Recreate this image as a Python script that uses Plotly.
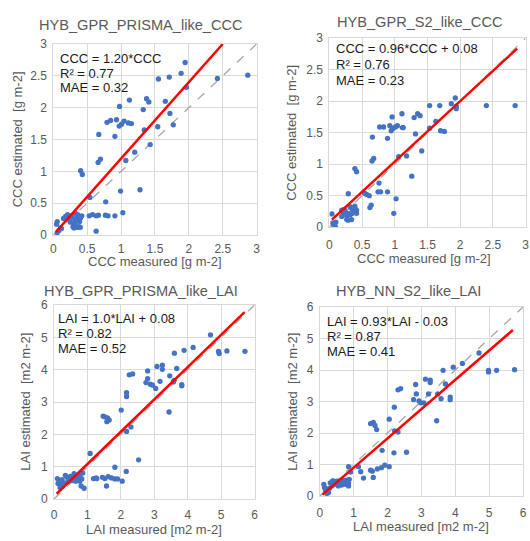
import plotly.graph_objects as go

# ---------------- data ----------------
titles = ["HYB_GPR_PRISMA_like_CCC", "HYB_GPR_S2_like_CCC",
          "HYB_GPR_PRISMA_like_LAI", "HYB_NN_S2_like_LAI"]
x_titles = ["CCC measured [g m-2]", "CCC measured [g m-2]",
            "LAI measured [m2 m-2]", "LAI measured [m2 m-2]"]
y_titles = ["CCC estimated  [g m-2]", "CCC estimated  [g m-2]",
            "LAI estimated  [m2 m-2]", "LAI estimated  [m2 m-2]"]
stat_lines = [["CCC = 1.20*CCC", "R² = 0.77", "MAE = 0.32"],
              ["CCC = 0.96*CCC + 0.08", "R² = 0.76", "MAE = 0.23"],
              ["LAI = 1.0*LAI + 0.08", "R² = 0.82", "MAE = 0.52"],
              ["LAI = 0.93*LAI - 0.03", "R² = 0.87", "MAE = 0.41"]]
fit_slope = [1.20, 0.96, 1.0, 0.93]
fit_intercept = [0.0, 0.08, 0.08, -0.03]
fit_x = [[0.04, 2.5], [0.04, 2.87], [0.08, 5.7], [0.08, 5.7]]
axis_max = [3, 3, 6, 6]
tick_step = [0.5, 0.5, 1, 1]

ccc_prisma_meas = [1.945, 1.886, 1.711, 1.551, 2.421, 2.87, 1.964, 0.977, 1.123, 1.376,
                   1.41, 1.653, 1.327, 1.721, 0.792, 0.846, 0.933, 1.045, 1.006, 0.972,
                   1.108, 1.152, 0.671, 0.909, 1.342, 1.541, 1.77, 1.429, 1.201, 0.695,
                   0.661, 1.07, 0.403, 0.428, 0.992, 1.279, 0.773, 0.54, 1.026, 0.909,
                   0.768, 0.807, 0.579, 0.53, 0.632, 0.666, 0.632,
                   0.18, 0.21, 0.277, 0.325, 0.35, 0.374, 0.398, 0.42, 0.388, 0.30,
                   0.325, 0.36, 0.398, 0.252, 0.058, 0.048, 0.107, 0.083, 0.058,
                   0.29, 0.306, 0.38, 0.12, 0.23, 0.27, 0.33, 0.40, 0.15, 0.36]
ccc_prisma_est = [2.71, 2.54, 2.48, 2.45, 2.46, 2.51, 2.32, 2.02, 2.12, 2.14,
                  2.09, 2.10, 1.97, 1.91, 1.77, 1.80, 1.81, 1.79, 1.74, 1.71,
                  1.76, 1.75, 1.58, 1.55, 1.65, 1.70, 1.73, 1.42, 1.30, 1.19,
                  1.14, 1.17, 1.01, 0.95, 0.69, 0.71, 0.52, 0.59, 0.35, 0.30,
                  0.31, 0.30, 0.32, 0.30, 0.30, 0.31, 0.06,
                  0.29, 0.32, 0.276, 0.34, 0.276, 0.24, 0.265, 0.30, 0.21, 0.19,
                  0.16, 0.12, 0.12, 0.20, 0.21, 0.17, 0.11, 0.07, 0.035,
                  0.13, 0.11, 0.13, 0.10, 0.25, 0.30, 0.23, 0.27, 0.26, 0.32]

ccc_s2_meas = [1.925, 1.864, 1.94, 1.94, 1.533, 1.688, 2.40, 2.84, 0.96, 1.11,
               1.35, 1.387, 1.296, 0.769, 0.829, 0.925, 0.975, 1.01, 1.04, 0.945,
               1.116, 1.13, 0.658, 0.889, 1.317, 1.533, 1.759, 1.70, 1.628, 1.412,
               1.06, 1.18, 0.653, 0.678, 0.39, 0.417, 1.26, 0.759, 0.744, 0.784,
               0.889, 1.02, 0.985, 0.62, 0.64, 0.29, 0.54, 0.57, 0.61,
               0.317, 0.34, 0.367, 0.39, 0.356, 0.317, 0.266, 0.216, 0.19, 0.24,
               0.29, 0.39, 0.416, 0.416, 0.266, 0.29, 0.34, 0.04, 0.055, 0.065,
               0.09, 0.19, 0.39, 0.10, 0.23, 0.36]
ccc_s2_est = [2.05, 1.96, 1.92, 1.88, 1.93, 1.93, 1.93, 1.93, 1.75, 1.80,
              1.80, 1.77, 1.74, 1.59, 1.59, 1.61, 1.57, 1.59, 1.61, 1.53,
              1.58, 1.58, 1.43, 1.41, 1.48, 1.57, 1.52, 1.53, 1.68, 1.21,
              1.12, 1.13, 1.05, 1.09, 0.93, 0.88, 0.81, 0.70, 0.56, 0.56,
              0.56, 0.45, 0.22, 0.31, 0.35, 0.53, 0.54, 0.52, 0.50,
              0.325, 0.30, 0.27, 0.25, 0.22, 0.196, 0.18, 0.21, 0.17, 0.25,
              0.22, 0.30, 0.27, 0.22, 0.12, 0.11, 0.12, 0.21, 0.067, 0.04,
              0.016, 0.27, 0.335, 0.08, 0.28, 0.24]

lai_prisma_meas = [4.68, 4.16, 3.89, 3.60, 4.92, 4.94, 5.17, 5.71, 3.08, 3.24,
                   3.24, 3.67, 3.46, 2.25, 2.35, 2.80, 2.80, 2.75, 2.88, 2.95,
                   3.04, 3.17, 3.57, 3.59, 3.82, 3.82, 2.17, 2.17, 2.01, 3.44,
                   1.47, 1.52, 1.60, 1.65, 1.58, 2.30, 2.17, 2.53, 1.08, 1.82,
                   2.16, 1.18, 1.26, 1.28, 1.45, 1.52, 1.62, 1.72, 1.82, 1.90,
                   2.04, 1.57, 0.90,
                   0.10, 0.15, 0.19, 0.25, 0.34, 0.39, 0.49, 0.59, 0.69, 0.74,
                   0.78, 0.83, 0.77, 0.64, 0.54, 0.44, 0.34, 0.29, 0.24, 0.18,
                   0.81, 0.12, 0.60, 0.70, 0.45, 0.86]
lai_prisma_est = [5.08, 4.69, 4.60, 4.51, 4.57, 4.50, 4.58, 4.57, 4.10, 4.14,
                  4.01, 4.04, 3.81, 3.84, 3.87, 3.96, 3.72, 3.60, 3.55, 3.52,
                  3.42, 3.64, 3.62, 3.67, 3.54, 3.50, 3.29, 3.17, 2.75, 2.69,
                  2.56, 2.54, 2.51, 2.44, 2.39, 2.23, 2.09, 1.21, 1.41, 0.98,
                  0.85, 0.63, 0.65, 0.63, 0.67, 0.63, 0.69, 0.65, 0.62, 0.62,
                  0.55, 0.40, 0.33,
                  0.63, 0.55, 0.45, 0.40, 0.73, 0.67, 0.70, 0.65, 0.70, 0.75,
                  0.67, 0.62, 0.55, 0.55, 0.57, 0.55, 0.50, 0.45, 0.60, 0.35,
                  0.40, 0.48, 0.78, 0.60, 0.62, 0.80]

lai_nn_meas = [4.70, 4.21, 3.94, 3.64, 4.98, 4.98, 5.22, 5.75, 3.12, 3.26,
               3.26, 3.71, 2.83, 2.31, 2.39, 2.85, 3.21, 2.77, 2.93, 2.98,
               3.07, 3.48, 3.58, 3.85, 3.85, 2.20, 2.05, 3.45, 1.50, 1.58,
               1.63, 1.68, 2.21, 2.31, 1.84, 2.19, 2.56, 0.85, 1.14, 1.82,
               1.92, 2.05, 1.21, 1.50, 1.55, 1.70, 1.29, 1.58, 0.91,
               0.12, 0.14, 0.17, 0.21, 0.26, 0.31, 0.41, 0.50, 0.60, 0.70,
               0.80, 0.87, 0.85, 0.75, 0.65, 0.55, 0.46, 0.36, 0.29, 0.21,
               0.85, 0.45, 0.68, 0.78, 0.55, 0.38]
lai_nn_est = [4.54, 4.21, 4.09, 3.99, 3.99, 3.94, 3.99, 4.01, 3.71, 3.68,
              3.60, 3.56, 3.54, 3.37, 3.41, 3.24, 3.24, 3.06, 3.02, 2.96,
              2.96, 3.24, 3.09, 3.14, 3.06, 2.82, 2.44, 2.39, 2.30, 2.34,
              2.24, 2.11, 2.07, 2.03, 1.45, 1.37, 1.39, 0.93, 0.93, 0.90,
              0.98, 0.93, 0.77, 0.82, 0.79, 0.86, 0.57, 0.59, 0.76,
              0.37, 0.27, 0.16, 0.22, 0.11, 0.42, 0.47, 0.47, 0.45, 0.47,
              0.50, 0.53, 0.42, 0.37, 0.35, 0.32, 0.37, 0.32, 0.25, 0.08,
              0.32, 0.42, 0.50, 0.40, 0.45, 0.48]

meas_sets = [ccc_prisma_meas, ccc_s2_meas, lai_prisma_meas, lai_nn_meas]
est_sets = [ccc_prisma_est, ccc_s2_est, lai_prisma_est, lai_nn_est]

# ---------------- layout (pixel geometry) ----------------
W, H = 530, 541
# plot-area pixel boxes: x0 (value 0), x1 (value max), y0 (value 0, bottom), y1 (value max, top)
boxes = [(51, 257, 234, 38), (330.7, 529.6, 226, 32),
         (51.7, 255, 505, 306), (321, 527, 502, 308)]
title_pos = [(140, 18), (422, 15), (140, 292), (411, 292)]
xtitle_pos = [(154, 261), (427, 258), (153, 536), (424, 533)]
ytitle_x = [15, 293, 22, 293]
tick_gap = [3, 6, 5, 6]
stat_pos = [(56, 53, 15), (335, 43, 16), (54, 320, 15.3), (326, 323, 15.5)]

FONT = "Liberation Sans, Arial, sans-serif"
GRAY = "#595959"
GRID = "#d9d9d9"

def px(x):
    return x / W

def py(y):
    return 1 - y / H

fig = go.Figure()
layout = dict(width=W, height=H, margin=dict(l=0, r=0, t=0, b=0),
              paper_bgcolor="white", plot_bgcolor="white", showlegend=False,
              font=dict(family=FONT, color=GRAY))
annotations = []

for i in range(4):
    xa = "x" if i == 0 else f"x{i+1}"
    ya = "y" if i == 0 else f"y{i+1}"
    xk = "xaxis" if i == 0 else f"xaxis{i+1}"
    yk = "yaxis" if i == 0 else f"yaxis{i+1}"
    x0, x1, yb, yt = boxes[i]
    m = axis_max[i]

    # 1:1 dashed line
    fig.add_trace(go.Scatter(x=[0, m], y=[0, m], mode="lines", xaxis=xa, yaxis=ya,
                             line=dict(color="#a6a6a6", width=1.3, dash="dash"),
                             hoverinfo="skip"))
    # points
    fig.add_trace(go.Scatter(x=meas_sets[i], y=est_sets[i], mode="markers",
                             xaxis=xa, yaxis=ya,
                             marker=dict(color="#4472C4", size=5.3)))
    # regression line
    fx = fit_x[i]
    fy = [fit_slope[i] * v + fit_intercept[i] for v in fx]
    fig.add_trace(go.Scatter(x=fx, y=fy, mode="lines", xaxis=xa, yaxis=ya,
                             line=dict(color="#ff0000", width=2.5),
                             hoverinfo="skip"))

    common = dict(range=[0, m], dtick=tick_step[i], tick0=0, showgrid=True,
                  gridcolor=GRID, gridwidth=1, showline=True, linecolor=GRID,
                  linewidth=1, mirror=True, zeroline=False,
                  tickfont=dict(family=FONT, size=12, color=GRAY))
    layout[xk] = dict(common, domain=[px(x0), px(x1)], anchor=ya,
                      ticks="outside", ticklen=tick_gap[i], tickcolor="rgba(0,0,0,0)")
    layout[yk] = dict(common, domain=[py(yb), py(yt)], anchor=xa,
                      ticks="outside", ticklen=3, tickcolor="rgba(0,0,0,0)")

    # chart title
    tx, ty = title_pos[i]
    annotations.append(dict(text=titles[i], x=px(tx), y=py(ty), xref="paper", yref="paper",
                            showarrow=False, xanchor="center", yanchor="middle",
                            font=dict(family=FONT, size=14.6, color=GRAY)))
    # x title
    ax_, ay_ = xtitle_pos[i]
    annotations.append(dict(text=x_titles[i], x=px(ax_), y=py(ay_), xref="paper", yref="paper",
                            showarrow=False, xanchor="center", yanchor="middle",
                            font=dict(family=FONT, size=13, color=GRAY)))
    # y title
    annotations.append(dict(text=y_titles[i], x=px(ytitle_x[i]), y=py((yb + yt) / 2),
                            xref="paper", yref="paper", showarrow=False, textangle=-90,
                            xanchor="center", yanchor="middle",
                            font=dict(family=FONT, size=13, color=GRAY)))
    # stats text
    sx, sy, sdy = stat_pos[i]
    for k, line in enumerate(stat_lines[i]):
        annotations.append(dict(text=line, x=px(sx), y=py(sy + k * sdy), xref="paper",
                                yref="paper", showarrow=False, xanchor="left",
                                yanchor="middle",
                                font=dict(family=FONT, size=13, color="#1a1a1a")))

layout["annotations"] = annotations
fig.update_layout(**layout)
fig.write_html("out.html", config={"displayModeBar": False},
               post_script="document.body.style.margin='0px';document.body.style.overflow='hidden';")
